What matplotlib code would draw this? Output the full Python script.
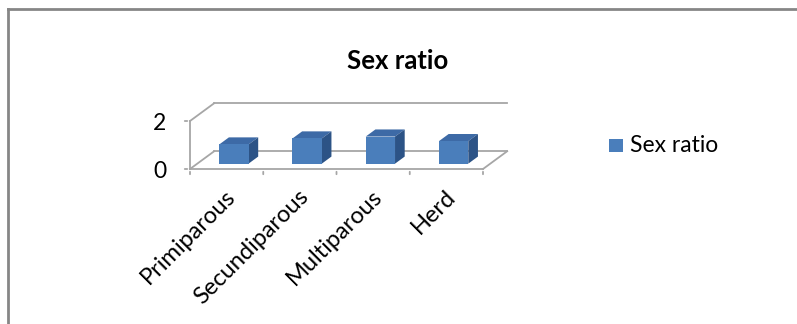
import matplotlib.pyplot as plt
from matplotlib.patches import Polygon, Rectangle

categories = ["Primiparous", "Secundiparous", "Multiparous", "Herd"]
sex_ratio = [0.80, 1.05, 1.13, 0.94]
y_ticks = [0, 2]
series_name = "Sex ratio"

plt.rcParams['font.family'] = ['Lato', 'DejaVu Sans']
fs = 16.5

W, H = 797, 324
fig = plt.figure(figsize=(W / 100, H / 100), dpi=100)

# outer chart frame (left and top edges only are visible)
fig.add_artist(plt.Line2D([8 / W, 8 / W], [0, 1 - 9 / H], transform=fig.transFigure,
                          color='#868686', lw=2))
fig.add_artist(plt.Line2D([8 / W, 1], [1 - 9 / H, 1 - 9 / H], transform=fig.transFigure,
                          color='#868686', lw=2))

# front plane of the plot: x 190..483 px, y 121..169 px
x0, x1, ytop, ybot = 190, 483, 121, 169
ax = fig.add_axes([x0 / W, 1 - ybot / H, (x1 - x0) / W, (ybot - ytop) / H])
n = len(categories)
ax.set_xlim(0, n)
ax.set_ylim(0, 2)
ax.axis('off')

dx, dy = 0.33, 0.74          # depth of the 3-D box in data units
grid = '#a6a6a6'
lw = 1.3
kw = dict(color=grid, lw=lw, clip_on=False, zorder=1)

# side wall and back wall gridlines
for g in y_ticks:
    ax.plot([0, dx], [g, g + dy], **kw)
    ax.plot([dx, n + dx], [g + dy, g + dy], **kw)
# floor
ax.plot([0, n], [0, 0], **kw)
ax.plot([n, n + dx], [0, dy], **kw)
# value axis
ax.plot([0, 0], [0, 2], **kw)
for g in y_ticks:
    ax.annotate('', xy=(0, g), xytext=(-8, 0), textcoords='offset pixels',
                arrowprops=dict(arrowstyle='-', color=grid, lw=lw))
    ax.annotate(str(g), xy=(0, g), xytext=(-24, -2), textcoords='offset pixels',
                ha='right', va='center', fontsize=fs, color='black')
# category ticks
for i in range(n + 1):
    ax.annotate('', xy=(i, 0), xytext=(0, -8), textcoords='offset pixels',
                arrowprops=dict(arrowstyle='-', color=grid, lw=lw))

# bars
front = '#4a7ebb'
top = '#3d6aa6'
side = '#2c5386'
bw = 0.4
d0, d1 = 0.3, 0.7
for i, v in enumerate(sex_ratio):
    left = i + 0.3 + d0 * dx
    base = d0 * dy
    ox, oy = (d1 - d0) * dx, (d1 - d0) * dy
    ax.add_patch(Polygon([(left, base + v), (left + bw, base + v),
                          (left + bw + ox, base + v + oy), (left + ox, base + v + oy)],
                         closed=True, fc=top, ec='none', clip_on=False, zorder=3))
    ax.add_patch(Polygon([(left + bw, base), (left + bw + ox, base + oy),
                          (left + bw + ox, base + v + oy), (left + bw, base + v)],
                         closed=True, fc=side, ec='none', clip_on=False, zorder=3))
    ax.bar(left, v, width=bw, bottom=base, align='edge', color=front,
           clip_on=False, zorder=4)

# category labels
for i, c in enumerate(categories):
    ax.annotate(c, xy=(i + 0.5, 0), xytext=(-2, -17), textcoords='offset pixels',
                ha='right', va='top', rotation=45, rotation_mode='anchor',
                fontsize=17, color='black')

fig.text(398 / W, 1 - 61 / H, "Sex ratio", ha='center', va='center',
         fontsize=18.5, fontweight='bold')

# legend
fig.add_artist(Rectangle((609 / W, 1 - 152 / H), 14 / W, 13 / H, transform=fig.transFigure,
                         fc=front, ec='none'))
fig.text(630 / W, 1 - 145 / H, series_name, ha='left', va='center', fontsize=fs)

fig.savefig('out.png', dpi=100)
